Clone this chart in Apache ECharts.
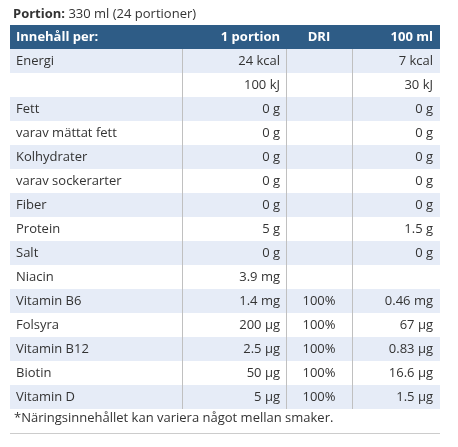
<!DOCTYPE html>
<html><head><meta charset="utf-8">
<script src="https://cdn.jsdelivr.net/npm/echarts@6/dist/echarts.min.js"></script>
<style>html,body{margin:0;padding:0;background:#fff}#c{width:458px;height:447px}</style>
</head><body><div id="c"></div>
<script>
const headers = ['Innehåll per:', '1 portion', 'DRI', '100 ml'];
const nutrients = ['Energi','','Fett','varav mättat fett','Kolhydrater','varav sockerarter','Fiber','Protein','Salt','Niacin','Vitamin B6','Folsyra','Vitamin B12','Biotin','Vitamin D'];
const perPortion = ['24 kcal','100 kJ','0 g','0 g','0 g','0 g','0 g','5 g','0 g','3.9 mg','1.4 mg','200 µg','2.5 µg','50 µg','5 µg'];
const dri = ['','','','','','','','','','','100%','100%','100%','100%','100%'];
const per100 = ['7 kcal','30 kJ','0 g','0 g','0 g','0 g','0 g','1.5 g','0 g','','0.46 mg','67 µg','0.83 µg','16.6 µg','1.5 µg'];
const colEdges = [0, 172, 276, 342, 430];
const font = '"Open Sans", sans-serif';
const rows = [headers].concat(nutrients.map((n,i)=>[n, perPortion[i], dri[i], per100[i]]));
const chart = echarts.init(document.getElementById('c'));
chart.setOption({
  animation:false,
  title:{left:8,top:3,text:'{b|Portion:} 330 ml (24 portioner)',
    textStyle:{fontFamily:font,fontSize:13,fontWeight:'normal',color:'#333',
      rich:{b:{fontFamily:font,fontSize:13,fontWeight:'bold',color:'#333'}}}},
  grid:{left:10,right:18,top:25,bottom:38},
  xAxis:{type:'value',min:0,max:430,show:false},
  yAxis:{type:'value',min:0,max:16,inverse:true,show:false},
  graphic:[
    {type:'text',left:14,top:412,style:{text:'*Näringsinnehållet kan variera något mellan smaker.',font:'13px '+font,fill:'#333'}},
    {type:'rect',shape:{x:10,y:433,width:430,height:1},style:{fill:'#ccc'}}
  ],
  series:[{
    type:'custom',
    data:rows.map((r,i)=>[i]),
    renderItem:function(params, api){
      const i = api.value(0);
      const r = rows[i];
      const p0 = api.coord([0,i]), p1 = api.coord([430,i+1]);
      const h = p1[1]-p0[1], cy = (p0[1]+p1[1])/2;
      const header = i===0;
      const bg = header ? '#2e5c86' : (i%2===1 ? '#e6ecf7' : '#ffffff');
      const kids = [{type:'rect',shape:{x:p0[0],y:p0[1],width:p1[0]-p0[0],height:h},style:{fill:bg}}];
      if(!header){
        for(let k=1;k<4;k++){
          const x = Math.round(api.coord([colEdges[k],i])[0])+0.5;
          kids.push({type:'line',shape:{x1:x,y1:p0[1],x2:x,y2:p1[1]},style:{stroke:'#c0c0c0',lineWidth:1}});
        }
      }
      const f = (header?'bold ':'')+'13px '+font;
      const col = header?'#fff':'#333';
      const xl = api.coord([colEdges[0],i])[0]+6;
      const xr1 = api.coord([colEdges[2],i])[0]-6;
      const xc = (api.coord([colEdges[2],i])[0]+api.coord([colEdges[3],i])[0])/2;
      const xr3 = api.coord([colEdges[4],i])[0]-7;
      kids.push({type:'text',style:{x:xl,y:cy,text:r[0],font:f,fill:col,textAlign:'left',textVerticalAlign:'middle'}});
      kids.push({type:'text',style:{x:xr1,y:cy,text:r[1],font:f,fill:col,textAlign:'right',textVerticalAlign:'middle'}});
      kids.push({type:'text',style:{x:xc,y:cy,text:r[2],font:f,fill:col,textAlign:'center',textVerticalAlign:'middle'}});
      kids.push({type:'text',style:{x:xr3,y:cy,text:r[3],font:f,fill:col,textAlign:'right',textVerticalAlign:'middle'}});
      return {type:'group',children:kids};
    }
  }]
});
</script></body></html>
